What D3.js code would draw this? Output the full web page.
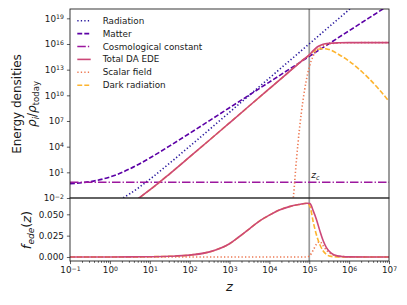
<!DOCTYPE html>
<html>
<head>
<meta charset="utf-8">
<script src="https://cdn.jsdelivr.net/npm/d3@7"></script>
<style>
  body { margin: 0; background: #fff; }
  text { font-family: "DejaVu Sans", sans-serif; fill: #1a1a1a; }
</style>
</head>
<body>
<svg id="chart" width="407" height="305"></svg>
<script>
// ---- data (exponents: log10 z and log10 rho/rho_today) ----
const logZ = [-1, -0.5, 0, 0.5, 1, 1.5, 2, 2.5, 3, 3.5, 4, 4.5, 5, 5.5, 6, 6.5, 7];
const radiation = [-3.81, -3.50, -2.78, -1.50, 0.18, 2.07, 4.04, 6.02, 8.02, 10.02, 12.02, 14.02, 16.02, 18.02, 20.02, 22.02, 24.02];
const matter = [-0.33, -0.09, 0.45, 1.41, 2.67, 4.09, 5.56, 7.05, 8.55, 10.05, 11.55, 13.05, 14.55, 16.05, 17.55, 19.05, 20.55];
const lambda = [-0.16, -0.16, -0.16, -0.16, -0.16, -0.16, -0.16, -0.16, -0.16, -0.16, -0.16, -0.16, -0.16, -0.16, -0.16, -0.16, -0.16];

const logZEde = [-1, -0.5, 0, 0.5, 1, 1.5, 2, 2.5, 3, 3.5, 4, 4.5, 4.8, 5, 5.1, 5.2, 5.3, 5.4, 5.5, 5.75, 6, 6.25, 6.5, 6.75, 7];
const totalEde = [-5.05, -4.74, -4.02, -2.74, -1.06, 0.83, 2.80, 4.78, 6.78, 8.78, 10.78, 12.78, 13.98, 14.72, 15.22, 15.65, 15.89, 16.03, 16.09, 16.14, 16.16, 16.16, 16.16, 16.16, 16.16];
const darkRad = [-5.05, -4.74, -4.02, -2.74, -1.06, 0.83, 2.80, 4.78, 6.78, 8.78, 10.78, 12.78, 13.98, 14.70, 15.10, 15.35, 15.45, 15.45, 15.35, 14.75, 14.00, 13.05, 11.95, 10.70, 9.30];

const logZScalar = [4.5, 4.6, 4.68, 4.76, 4.84, 4.92, 5.0, 5.1, 5.2, 5.3, 5.4, 5.5, 5.75, 6, 7];
const scalarField = [-6, -2, 2.5, 6.3, 9.3, 11.6, 13.3, 14.6, 15.35, 15.7, 15.9, 16.0, 16.12, 16.15, 16.16];

// bottom panel: fraction f_ede(z)
const logZFrac = [-1, -0.5, 0, 0.5, 1, 1.5, 2, 2.5, 3, 3.25, 3.5, 3.75, 4, 4.25, 4.5, 4.75, 4.95, 5.02, 5.1, 5.18, 5.27, 5.35, 5.43, 5.55, 5.7, 5.85, 6, 6.5, 7];
const fTotal = [0, 0, 0, 0.0001, 0.0003, 0.0008, 0.0022, 0.006, 0.0155, 0.024, 0.033, 0.042, 0.049, 0.055, 0.059, 0.0615, 0.063, 0.0625, 0.054, 0.044, 0.030, 0.019, 0.011, 0.0045, 0.0013, 0.0004, 0.0001, 0, 0];
const fDarkRad = [0, 0, 0, 0.0001, 0.0003, 0.0008, 0.0022, 0.006, 0.0155, 0.024, 0.033, 0.042, 0.049, 0.055, 0.059, 0.0615, 0.063, 0.059, 0.041, 0.026, 0.014, 0.007, 0.003, 0.0007, 0.0001, 0, 0, 0, 0];
const fScalar = [0, 0, 0, 0, 0, 0, 0, 0, 0, 0, 0, 0, 0, 0, 0, 0, 0, 0.002, 0.008, 0.015, 0.018, 0.013, 0.008, 0.0035, 0.0012, 0.0004, 0.0001, 0, 0];

const xTickExp = [-1, 0, 1, 2, 3, 4, 5, 6, 7];
const yTickExp = [-2, 1, 4, 7, 10, 13, 16, 19];
const fTicks = [0, 0.025, 0.05];
const zCrit = 1e5;

const names = ["Radiation", "Matter", "Cosmological constant", "Total DA EDE", "Scalar field", "Dark radiation"];
const colors = names.map((d, i) => d3.interpolatePlasma(i / 6));
colors[0] = "#2a1a9e";
const dashes = ["1.3,2.2", "4.9,2.1", "8.5,2.1,1.3,2.1", null, "1.3,2.2", "4.9,2.1"];

(function () {
  // ---- layout ----
  const pLeft = 70, pRight = 389, pTop = 9, pMid = 198, pBottom = 261;
  const svg = d3.select("#chart");

  const x = d3.scaleLog().domain([1e-1, 1e7]).range([pLeft, pRight]);
  const yTop = d3.scaleLog().domain([1e-2, Math.pow(10, 20.09)]).range([pMid, pTop]);
  const yBot = d3.scaleLinear().domain([-0.0047, 0.0691]).range([pBottom, pMid]);

  const defs = svg.append("defs");
  defs.append("clipPath").attr("id", "clipTop")
    .append("rect").attr("x", pLeft).attr("y", pTop).attr("width", pRight - pLeft).attr("height", pMid - pTop);
  defs.append("clipPath").attr("id", "clipBot")
    .append("rect").attr("x", pLeft).attr("y", pMid).attr("width", pRight - pLeft).attr("height", pBottom - pMid);

  function supLabel(sel, base, exp, size) {
    sel.text(null);
    sel.append("tspan").text(base);
    sel.append("tspan").attr("dy", "-0.45em").attr("font-size", size * 0.7)
      .text(String(exp).replace("-", "\u2212"));
  }

  // vertical line at z_c (both panels)
  svg.append("line")
    .attr("x1", x(zCrit)).attr("x2", x(zCrit))
    .attr("y1", pTop).attr("y2", pBottom)
    .attr("stroke", "#9a9a9a").attr("stroke-width", 1.7);

  // ---- top panel lines ----
  const lineTop = d3.line()
    .x(d => x(Math.pow(10, d[0])))
    .y(d => yTop(Math.pow(10, d[1])))
    .curve(d3.curveMonotoneX);

  // drawing order: dark radiation sits under the total curve
  const topSeries = [
    [logZ, radiation, 0],
    [logZ, matter, 1],
    [logZ, lambda, 2],
    [logZEde, darkRad, 5],
    [logZScalar, scalarField, 4],
    [logZEde, totalEde, 3]
  ];

  const gTop = svg.append("g").attr("clip-path", "url(#clipTop)");
  topSeries.forEach(([zs, vs, i]) => {
    gTop.append("path")
      .datum(zs.map((z, k) => [z, vs[k]]))
      .attr("d", lineTop)
      .attr("fill", "none")
      .attr("stroke", colors[i])
      .attr("stroke-width", 1.6)
      .attr("stroke-dasharray", dashes[i]);
  });

  // ---- bottom panel lines ----
  const lineBot = d3.line()
    .x(d => x(Math.pow(10, d[0])))
    .y(d => yBot(d[1]))
    .curve(d3.curveMonotoneX);

  const botSeries = [
    [fScalar, 4],
    [fDarkRad, 5],
    [fTotal, 3]
  ];

  const gBot = svg.append("g").attr("clip-path", "url(#clipBot)");
  botSeries.forEach(([vs, i]) => {
    gBot.append("path")
      .datum(logZFrac.map((z, k) => [z, vs[k]]))
      .attr("d", lineBot)
      .attr("fill", "none")
      .attr("stroke", colors[i])
      .attr("stroke-width", 1.6)
      .attr("stroke-dasharray", dashes[i]);
  });

  // ---- axes ----
  const fs = 8.8;

  const yAxisTop = svg.append("g")
    .attr("transform", `translate(${pLeft},0)`)
    .call(d3.axisLeft(yTop).tickValues(yTickExp.map(e => Math.pow(10, e))).tickSize(3.1).tickPadding(3));
  yAxisTop.selectAll("text").each(function (d, i) {
    d3.select(this).attr("font-size", fs).attr("font-family", null);
    supLabel(d3.select(this), "10", yTickExp[i], fs);
  });

  svg.append("g")
    .attr("transform", `translate(${pLeft},0)`)
    .call(d3.axisLeft(yBot).tickValues(fTicks).tickFormat(d3.format(".3f")).tickSize(3.1).tickPadding(3))
    .selectAll("text").attr("font-size", fs).attr("font-family", null);

  const minorTicks = [];
  xTickExp.slice(0, -1).forEach(e => {
    for (let m = 2; m <= 9; m++) minorTicks.push(m * Math.pow(10, e));
  });
  svg.append("g")
    .attr("transform", `translate(0,${pBottom})`)
    .call(d3.axisBottom(x).tickValues(minorTicks).tickSize(1.8).tickFormat(""));
  const xAxis = svg.append("g")
    .attr("transform", `translate(0,${pBottom})`)
    .call(d3.axisBottom(x).tickValues(xTickExp.map(e => Math.pow(10, e))).tickSize(3.1).tickPadding(3));
  xAxis.selectAll("text").each(function (d, i) {
    d3.select(this).attr("font-size", fs).attr("font-family", null);
    supLabel(d3.select(this), "10", xTickExp[i], fs);
  });

  svg.selectAll(".domain").remove();
  svg.selectAll(".tick line").attr("stroke", "#333").attr("stroke-width", 0.8);

  [[pTop, pMid], [pMid, pBottom]].forEach(([a, b]) => {
    svg.append("rect")
      .attr("x", pLeft).attr("y", a)
      .attr("width", pRight - pLeft).attr("height", b - a)
      .attr("fill", "none").attr("stroke", "#222").attr("stroke-width", 0.9);
  });

  // ---- labels ----
  svg.append("text")
    .attr("transform", "translate(21,104) rotate(-90)")
    .attr("text-anchor", "middle").attr("font-size", 12)
    .text("Energy densities");

  const rhoLab = svg.append("text")
    .attr("transform", "translate(36,104) rotate(-90)")
    .attr("text-anchor", "middle").attr("font-size", 12);
  rhoLab.append("tspan").attr("font-style", "italic").text("\u03c1");
  rhoLab.append("tspan").attr("font-style", "italic").attr("font-size", 8.5).attr("dy", 3).text("i");
  rhoLab.append("tspan").attr("dy", -3).text("/");
  rhoLab.append("tspan").attr("font-style", "italic").text("\u03c1");
  rhoLab.append("tspan").attr("font-size", 8.5).attr("dy", 3).text("today");

  const fLab = svg.append("text")
    .attr("transform", "translate(31,230) rotate(-90)")
    .attr("text-anchor", "middle").attr("font-size", 13).attr("font-style", "italic");
  fLab.append("tspan").text("f");
  fLab.append("tspan").attr("font-size", 9).attr("dy", 3).text("ede");
  fLab.append("tspan").attr("dy", -3).attr("font-style", "normal").text("(");
  fLab.append("tspan").text("z");
  fLab.append("tspan").attr("font-style", "normal").text(")");

  svg.append("text")
    .attr("x", (pLeft + pRight) / 2).attr("y", 291)
    .attr("text-anchor", "middle").attr("font-size", 13).attr("font-style", "italic")
    .text("z");

  const zcLab = svg.append("text")
    .attr("x", x(zCrit) + 2).attr("y", 178)
    .attr("font-size", 9).attr("font-style", "italic");
  zcLab.append("tspan").text("z");
  zcLab.append("tspan").attr("font-size", 6.5).attr("dy", 2).text("c");

  // ---- legend ----
  const legend = svg.append("g");
  names.forEach((n, i) => {
    const ly = 20.7 + i * 12.9;
    legend.append("line")
      .attr("x1", 77.3).attr("x2", 90.7).attr("y1", ly).attr("y2", ly)
      .attr("stroke", colors[i]).attr("stroke-width", 1.6)
      .attr("stroke-dasharray", dashes[i]);
    legend.append("text")
      .attr("x", 102.7).attr("y", ly).attr("dy", "0.35em")
      .attr("font-size", fs)
      .text(n);
  });
})();
</script>
</body>
</html>
